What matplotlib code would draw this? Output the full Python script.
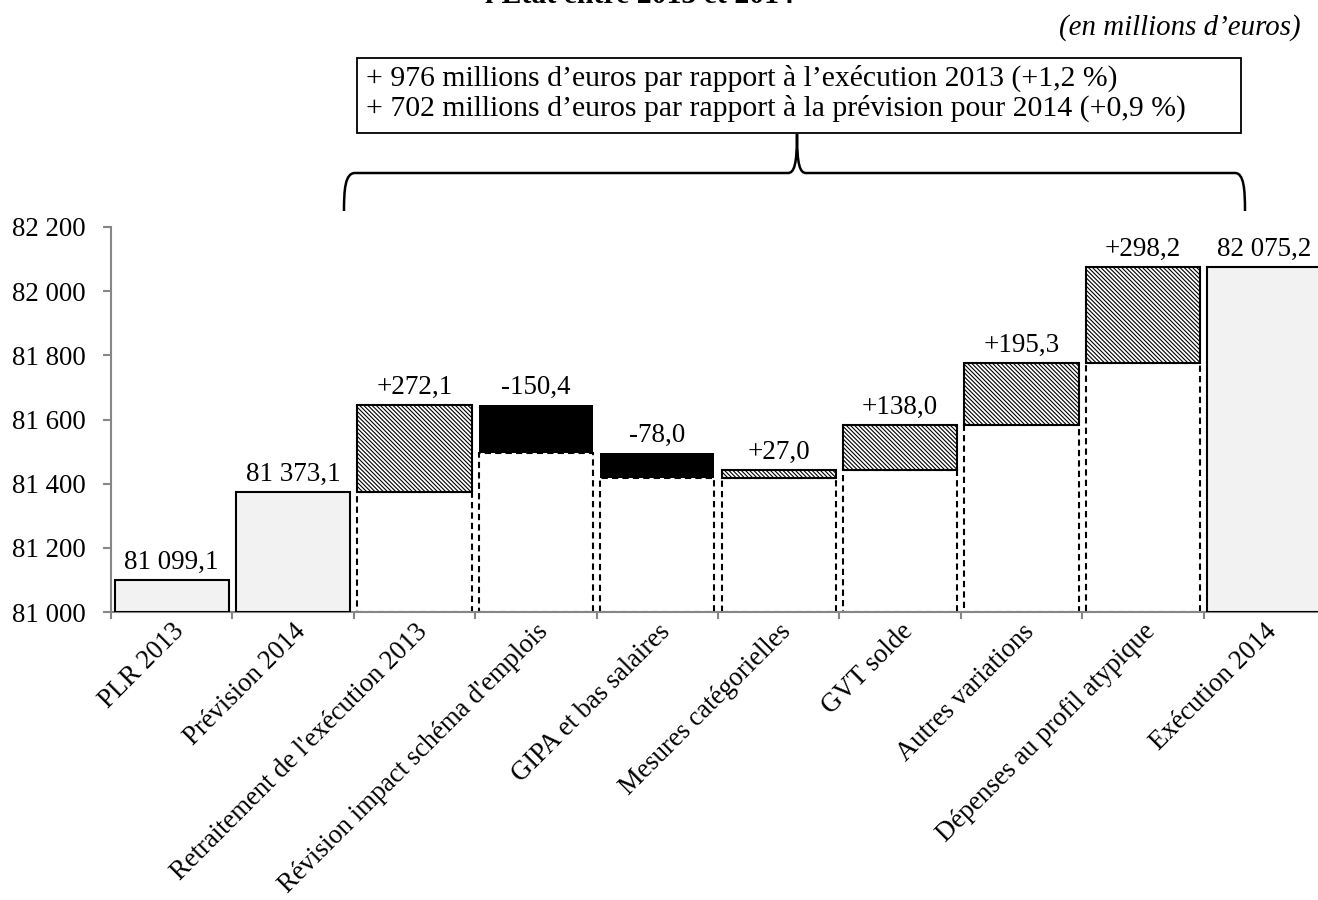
import matplotlib
matplotlib.use('Agg')
import matplotlib.pyplot as plt
from matplotlib.path import Path
from matplotlib.patches import PathPatch, Rectangle
from matplotlib.textpath import TextPath
from matplotlib.font_manager import FontProperties

# ---------------- data ----------------
categories = ["PLR 2013", "Prévision 2014", "Retraitement de l'exécution 2013",
              "Révision impact schéma d'emplois", "GIPA et bas salaires",
              "Mesures catégorielles", "GVT solde", "Autres variations",
              "Dépenses au profil atypique", "Exécution 2014"]
plr_2013 = 81099.1
prevision_2014 = 81373.1
deltas = [272.1, -150.4, -78.0, 27.0, 138.0, 195.3, 298.2]
execution_2014 = 82075.2
y_ticks = [81000, 81200, 81400, 81600, 81800, 82000, 82200]
title_text = "l'État entre 2013 et 2014"
unit_text = "(en millions d\u2019euros)"
box_lines = ["+ 976 millions d\u2019euros par rapport à l\u2019exécution 2013 (+1,2 %)",
             "+ 702 millions d\u2019euros par rapport à la prévision pour 2014 (+0,9 %)"]

# ---------------- style ----------------
FONT = 'Liberation Serif'
plt.rcParams['font.family'] = [FONT, 'DejaVu Serif']
plt.rcParams['hatch.linewidth'] = 0.8
GRAY = '#868686'
W, H = 1318, 900
DPI = 100


def fr(v, sign=False, dec=1):
    s = f"{abs(v):,.{dec}f}".replace(',', ' ').replace('.', ',')
    if sign:
        return ('+' if v >= 0 else '-') + s
    return s


def fit(s, target_px, **kw):
    fp = FontProperties(family=FONT, size=20, **kw)
    w = TextPath((0, 0), s, prop=fp).get_extents().width * DPI / 72
    return 20 * target_px / w


def fx(x):
    return x / W


def fy(y):
    return 1 - y / H


tick_fs = fit("82 000", 72)
label_fs = fit("81 099,1", 92)
xlab_fs = fit("Retraitement de l'exécution 2013", 350)
box_fs = fit(box_lines[1], 867) * 0.94
unit_fs = fit(unit_text, 239, style='italic')
title_fs = fit(title_text, 323, weight='bold') * 0.95

fig = plt.figure(figsize=(W / DPI, H / DPI), dpi=DPI)
ax = fig.add_axes([fx(111), fy(612), 1214 / W, (612 - 227) / H])

ymin, ymax = y_ticks[0], y_ticks[-1]
bw = 0.94
lw = 1.5


def label(x, y, txt):
    ax.annotate(txt, (x, y), xytext=(0, 8), textcoords='offset points',
                ha='center', va='baseline', fontsize=label_fs)


# totals
total_kw = dict(width=bw, color='#f2f2f2', edgecolor='black', linewidth=lw, zorder=3)
last = len(categories) - 1
ax.bar(0, plr_2013 - ymin, bottom=ymin, **total_kw)
ax.bar(1, prevision_2014 - ymin, bottom=ymin, **total_kw)
ax.bar(last, execution_2014 - ymin, bottom=ymin, **total_kw)
label(0, plr_2013, fr(plr_2013))
label(1, prevision_2014, fr(prevision_2014))
label(last, execution_2014, fr(execution_2014))

level = prevision_2014
for i, d in enumerate(deltas):
    x = i + 2
    lo = min(level, level + d)
    hi = max(level, level + d)
    # dashed invisible base
    ax.bar(x, lo - ymin, bottom=ymin, width=bw, color='white', edgecolor='black',
           linewidth=1.5, linestyle=(0, (3, 2)), zorder=2)
    if d >= 0:
        ax.bar(x, d, bottom=lo, width=bw, color='white', edgecolor='black',
               hatch='\\\\\\\\\\\\\\\\', linewidth=lw, zorder=3)
    else:
        ax.bar(x, -d, bottom=lo, width=bw, color='black', edgecolor='black',
               linewidth=0, zorder=1)
    label(x, hi, fr(d, sign=True))
    level += d

ax.set_xlim(-0.5, len(categories) - 0.5)
ax.set_ylim(ymin, ymax)
ax.set_yticks(y_ticks)
ax.set_yticklabels([fr(v, dec=0) for v in y_ticks], fontsize=tick_fs)
ax.set_xticks(range(len(categories)))
ax.set_xticklabels(categories, rotation=45, ha='right', rotation_mode='anchor',
                   fontsize=xlab_fs)
ax.set_xticks([i - 0.5 for i in range(len(categories) + 1)], minor=True)
ax.tick_params(axis='x', which='major', length=0, pad=5)
ax.tick_params(axis='x', which='minor', length=5, color=GRAY, width=1.5, direction='out')
ax.tick_params(axis='y', length=6, color=GRAY, width=1.5, direction='out', pad=12)
for s in ['top', 'right']:
    ax.spines[s].set_visible(False)
for s in ['left', 'bottom']:
    ax.spines[s].set_color(GRAY)
    ax.spines[s].set_linewidth(1.5)

# title (cut off at top) and unit
fig.text(fx(639), fy(3), title_text, ha='center', va='baseline', fontsize=title_fs,
         fontweight='bold')
fig.text(fx(1301), fy(28), unit_text, ha='right', va='center', fontsize=unit_fs,
         fontstyle='italic')

# box
fig.patches.append(Rectangle((fx(357), fy(133)), fx(1241) - fx(357), fy(58) - fy(133),
                             transform=fig.transFigure, fill=False, edgecolor='black',
                             linewidth=1.3))
fig.text(fx(366), fy(78), box_lines[0], ha='left', va='center', fontsize=box_fs)
fig.text(fx(366), fy(108), box_lines[1], ha='left', va='center', fontsize=box_fs)

# brace
pts = [(344, 211), (344, 190), (345, 173), (355, 173), (788, 173),
       (794, 173), (797, 165), (797, 134), (797, 165), (800, 173), (806, 173),
       (1235, 173), (1244, 173), (1245, 190), (1245, 211)]
codes = [Path.MOVETO, Path.CURVE4, Path.CURVE4, Path.CURVE4, Path.LINETO,
         Path.CURVE4, Path.CURVE4, Path.CURVE4, Path.CURVE4, Path.CURVE4, Path.CURVE4,
         Path.LINETO, Path.CURVE4, Path.CURVE4, Path.CURVE4]
path = Path([(fx(a), fy(b)) for a, b in pts], codes)
fig.patches.append(PathPatch(path, transform=fig.transFigure, fill=False,
                             edgecolor='black', linewidth=1.8))

fig.savefig('out.png', dpi=DPI)
